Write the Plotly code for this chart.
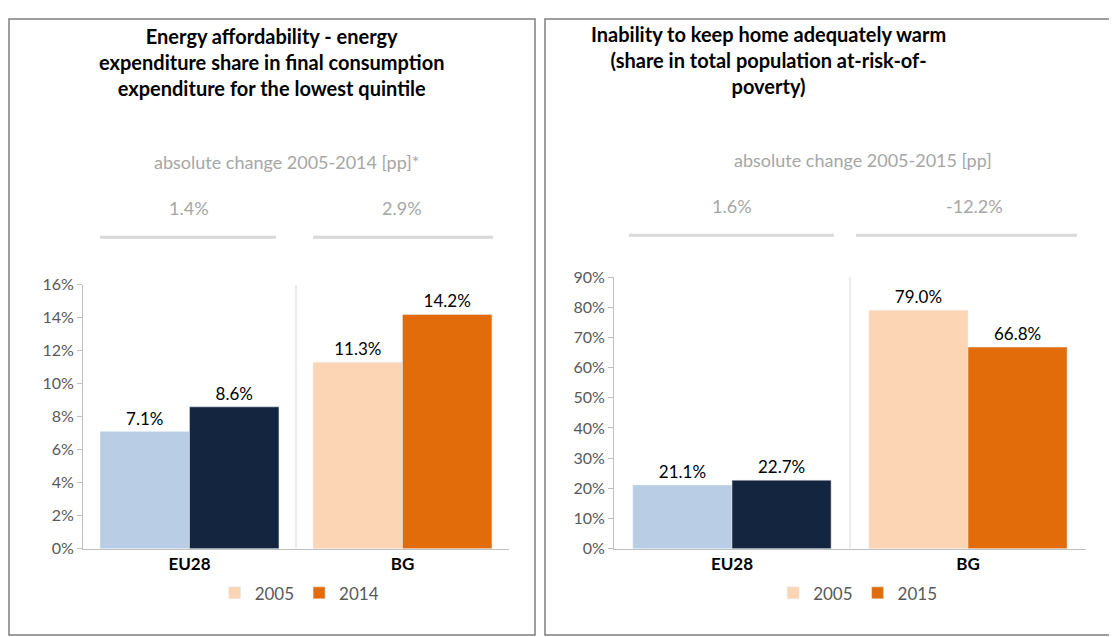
import plotly.graph_objects as go

cats = ['EU28', 'BG']
left_first = [7.1, 11.3]
left_second = [8.6, 14.2]
left_years = ['2005', '2014']
left_change = ['1.4%', '2.9%']
right_first = [21.1, 79.0]
right_second = [22.7, 66.8]
right_years = ['2005', '2015']
right_change = ['1.6%', '-12.2%']

light = ['#B9CDE5', '#FCD5B5']
dark = ['#14253F', '#E36C0A']
F = 'Lato'
W, H = 1117, 637

fig = go.Figure()
for vals, cols, xa, ya, og in [(left_first, light, 'x', 'y', 'a'), (left_second, dark, 'x', 'y', 'b'),
                               (right_first, light, 'x2', 'y2', 'a'), (right_second, dark, 'x2', 'y2', 'b')]:
    fig.add_trace(go.Bar(x=cats, y=vals, marker_color=cols, xaxis=xa, yaxis=ya, offsetgroup=og,
                         text=['%.1f%%' % v for v in vals], textposition='outside',
                         textfont=dict(size=17, color='black'), cliponaxis=False,
                         showlegend=False))
# legend entries
for name, col, lg, og in [(left_years[0], light[1], 'legend', 'a'), (left_years[1], dark[1], 'legend', 'b'),
                          (right_years[0], light[1], 'legend2', 'a'), (right_years[1], dark[1], 'legend2', 'b')]:
    fig.add_trace(go.Bar(x=[None], y=[None], name=name, marker_color=col, legend=lg, offsetgroup=og,
                         xaxis='x' if lg == 'legend' else 'x2', yaxis='y' if lg == 'legend' else 'y2'))

ax = dict(showgrid=False, showline=True, linecolor='#BFBFBF', ticks='',
          tickfont=dict(size=17, color='black', family=F, weight='bold'))
ay = dict(showgrid=False, showline=True, linecolor='#BFBFBF', ticks='outside', tickcolor='#BFBFBF',
          ticksuffix='%', tickfont=dict(size=16, color='#595959'))
fig.update_layout(
    width=W, height=H, margin=dict(l=0, r=0, t=0, b=0),
    plot_bgcolor='white', paper_bgcolor='white', font=dict(family=F),
    barmode='group', bargap=0.16, bargroupgap=0,
    xaxis=dict(ax, domain=[75/W, 501/W], anchor='y'),
    yaxis=dict(ay, domain=[1-547/H, 1-275/H], range=[0, 16], dtick=2, anchor='x'),
    xaxis2=dict(ax, domain=[606/W, 1078/W], anchor='y2'),
    yaxis2=dict(ay, domain=[1-547/H, 1-267/H], range=[0, 90], dtick=10, anchor='x2'),
    legend=dict(orientation='h', x=0.185, y=1-593/H, yanchor='middle',
                font=dict(size=17, color='#595959')),
    legend2=dict(orientation='h', x=0.685, y=1-593/H, yanchor='middle',
                 font=dict(size=17, color='#595959')),
)

# panel borders
for x0, x1 in [(1, 527), (537, 1115)]:
    fig.add_shape(type='rect', xref='paper', yref='paper', x0=x0/W, x1=x1/W, y0=1/H, y1=1-1/H,
                  line=dict(color='#7F7F7F', width=1.5))
# category dividers
for xr, yr, top in [('x', 'y', 16), ('x2', 'y2', 90)]:
    fig.add_shape(type='line', xref=xr, yref=yr, x0=0.5, x1=0.5, y0=0, y1=top,
                  line=dict(color='#D9D9D9', width=1))

ann = []
ann.append(dict(x=263/W, y=1-45/H, text='<b>Energy affordability - energy<br>expenditure share in final consumption<br>expenditure for the lowest quintile</b>',
                font=dict(size=20, color='black')))
ann.append(dict(x=760/W, y=1-43/H, text='<b>Inability to keep home adequately warm<br>(share in total population at-risk-of-<br>poverty)</b>',
                font=dict(size=20, color='black')))
ann.append(dict(x=278/W, y=1-148/H, text='absolute change 2005-2014 [pp]*', font=dict(size=18, color='#A6A6A6')))
ann.append(dict(x=855/W, y=1-146/H, text='absolute change 2005-2015 [pp]', font=dict(size=18, color='#A6A6A6')))
for xc, t in zip([181, 394], left_change):
    ann.append(dict(x=xc/W, y=1-196/H, text=t, font=dict(size=18, color='#A6A6A6')))
for xc, t in zip([724, 966], right_change):
    ann.append(dict(x=xc/W, y=1-194/H, text=t, font=dict(size=18, color='#A6A6A6')))
for a in ann:
    fig.add_annotation(a, xref='paper', yref='paper', showarrow=False, xanchor='center', yanchor='middle')
for x0, x1, y in [(92, 268, 226), (305, 485, 226), (621, 826, 224), (848, 1069, 224)]:
    fig.add_shape(type='line', xref='paper', yref='paper', x0=x0/W, x1=x1/W, y0=1-y/H, y1=1-y/H,
                  line=dict(color='#D9D9D9', width=3))

fig.write_html('out.html')
